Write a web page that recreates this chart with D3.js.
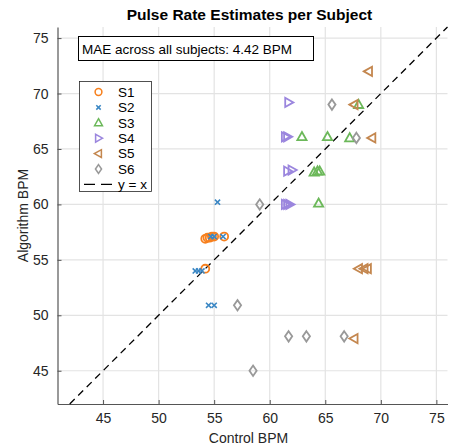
<!DOCTYPE html>
<html>
<head>
<meta charset="utf-8">
<script src="https://cdn.jsdelivr.net/npm/d3@7"></script>
<style>
  body { margin: 0; background: #fff; }
  text { font-family: "Liberation Sans", Arial, sans-serif; }
</style>
</head>
<body>
<div id="chart"></div>
<script>
// ============ Data (control BPM, algorithm BPM) ============
var subjects = ["S1", "S2", "S3", "S4", "S5", "S6"];
var s1x = [54.2, 54.4, 54.6, 54.8, 55.0, 55.9, 54.2];
var s1y = [56.9, 57.0, 57.0, 57.1, 57.1, 57.1, 54.2];
var s2x = [55.3, 54.7, 55.0, 55.8, 53.3, 53.6, 53.9, 54.5, 55.0];
var s2y = [60.2, 57.1, 57.1, 57.1, 54.0, 54.0, 54.0, 50.9, 50.9];
var s3x = [62.9, 65.2, 67.2, 68.0, 64.0, 64.3, 64.5, 64.4];
var s3y = [66.1, 66.1, 66.0, 69.0, 62.9, 63.0, 63.0, 60.1];
var s4x = [61.7, 61.4, 61.6, 61.6, 62.0, 61.4, 61.6, 61.8];
var s4y = [69.2, 66.1, 66.1, 63.0, 63.1, 60.0, 60.0, 60.0];
var s5x = [68.9, 67.6, 69.2, 68.0, 68.5, 68.8, 67.6];
var s5y = [72.0, 69.0, 66.0, 54.2, 54.2, 54.2, 47.9];
var s6x = [59.1, 57.1, 61.7, 63.3, 66.7, 58.5, 65.6, 67.8];
var s6y = [60.0, 50.9, 48.1, 48.1, 48.1, 45.0, 69.0, 66.0];
var xTicks = [45, 50, 55, 60, 65, 70, 75];
var yTicks = [45, 50, 55, 60, 65, 70, 75];
var maeText = "MAE across all subjects: 4.42 BPM";

var seriesX = [s1x, s2x, s3x, s4x, s5x, s6x];
var seriesY = [s1y, s2y, s3y, s4y, s5y, s6y];
var colors = ["#f7801e", "#3b87c4", "#6cb85a", "#9b86de", "#c4874f", "#999999"];
var shapes = ["circle", "x", "up", "right", "left", "diamond"];

//============ Set up chart =====================
var svgWidth = 452;
var svgHeight = 448;
var margin = { top: 27, right: 4.5, bottom: 44, left: 57.5 };
var width = svgWidth - margin.left - margin.right;
var height = svgHeight - margin.top - margin.bottom;

var svg = d3.select("#chart").append("svg")
  .attr("width", svgWidth)
  .attr("height", svgHeight);

var chartGroup = svg.append("g")
  .attr("transform", `translate(${margin.left}, ${margin.top})`);

var xScale = d3.scaleLinear().domain([40.9, 76]).range([0, width]);
var yScale = d3.scaleLinear().domain([42, 76]).range([height, 0]);

// grid
chartGroup.append("g").selectAll("line").data(xTicks).enter().append("line")
  .attr("x1", d => xScale(d)).attr("x2", d => xScale(d))
  .attr("y1", 0).attr("y2", height)
  .attr("stroke", "#e3e3e3").attr("stroke-width", 1.2);
chartGroup.append("g").selectAll("line").data(yTicks).enter().append("line")
  .attr("y1", d => yScale(d)).attr("y2", d => yScale(d))
  .attr("x1", 0).attr("x2", width)
  .attr("stroke", "#e3e3e3").attr("stroke-width", 1.2);

// axes
var bottomAxis = d3.axisBottom(xScale).tickValues(xTicks).tickSizeInner(-4).tickSizeOuter(0).tickPadding(9);
var leftAxis = d3.axisLeft(yScale).tickValues(yTicks).tickSizeInner(-4).tickSizeOuter(0).tickPadding(9);

var xAxis = chartGroup.append("g")
  .attr("transform", `translate(0, ${height})`)
  .call(bottomAxis);
var yAxis = chartGroup.append("g").call(leftAxis);

[xAxis, yAxis].forEach(function(ax) {
  ax.select(".domain").attr("stroke", "#555").attr("stroke-width", 1.2);
  ax.selectAll(".tick line").attr("stroke", "#555");
  ax.selectAll(".tick text").attr("fill", "#262626")
    .style("font-size", "14px").style("font-family", "Liberation Sans, Arial, sans-serif");
});

// y = x reference line
var lo = 42, hi = 76;
chartGroup.append("line")
  .attr("x1", xScale(lo)).attr("y1", yScale(lo))
  .attr("x2", xScale(hi)).attr("y2", yScale(hi))
  .attr("stroke", "#000").attr("stroke-width", 1.3)
  .attr("stroke-dasharray", "7,5");

// marker path generator
function markerPath(shape) {
  switch (shape) {
    case "circle": return d3.symbol().type(d3.symbolCircle).size(50)();
    case "x": return "M-2.6,-2.6L2.6,2.6M-2.6,2.6L2.6,-2.6";
    case "up": return "M0,-4.8L4.6,3.4L-4.6,3.4Z";
    case "right": return "M4.8,0L-3.4,4.6L-3.4,-4.6Z";
    case "left": return "M-4.8,0L3.4,4.6L3.4,-4.6Z";
    case "diamond": return "M0,-5.2L3.6,0L0,5.2L-3.6,0Z";
  }
}

seriesX.forEach(function(xs, i) {
  var pts = xs.map((x, j) => ({ x: x, y: seriesY[i][j] }));
  chartGroup.append("g").selectAll("path").data(pts).enter().append("path")
    .attr("d", markerPath(shapes[i]))
    .attr("transform", d => `translate(${xScale(d.x)}, ${yScale(d.y)})`)
    .attr("fill", "none")
    .attr("stroke", colors[i])
    .attr("stroke-width", shapes[i] === "x" ? 1.6 : 1.8);
});

// MAE annotation box
svg.append("rect")
  .attr("x", 78.5).attr("y", 36.5).attr("width", 235).attr("height", 24)
  .attr("fill", "#fff").attr("stroke", "#000").attr("stroke-width", 1);
svg.append("text")
  .attr("x", 82).attr("y", 53.5)
  .style("font-size", "13.5px").attr("fill", "#000")
  .text(maeText);

// legend
var legend = svg.append("g");
legend.append("rect")
  .attr("x", 79.5).attr("y", 81.5).attr("width", 72).attr("height", 110)
  .attr("fill", "#fff").attr("stroke", "#262626").attr("stroke-width", 0.8);
subjects.forEach(function(s, i) {
  var ly = 92 + i * 15.4;
  legend.append("path")
    .attr("d", markerPath(shapes[i]))
    .attr("transform", `translate(98.5, ${ly}) scale(0.85)`)
    .attr("fill", "none").attr("stroke", colors[i]).attr("stroke-width", 1.8);
  legend.append("text")
    .attr("x", 118).attr("y", ly + 4.8)
    .style("font-size", "13.5px").attr("fill", "#000")
    .text(s);
});
var lineY = 92 + 6 * 15.4;
legend.append("line")
  .attr("x1", 84).attr("x2", 112).attr("y1", lineY).attr("y2", lineY)
  .attr("stroke", "#000").attr("stroke-width", 1.3).attr("stroke-dasharray", "11,6");
legend.append("text")
  .attr("x", 118).attr("y", lineY + 4.8)
  .style("font-size", "13.5px").attr("fill", "#000")
  .text("y = x");

// title and axis labels
svg.append("text")
  .attr("x", margin.left + width / 2 - 3).attr("y", 20)
  .attr("text-anchor", "middle")
  .style("font-size", "15.5px").style("font-weight", "bold").attr("fill", "#000")
  .text("Pulse Rate Estimates per Subject");

svg.append("text")
  .attr("x", margin.left + width / 2 - 4).attr("y", 443)
  .attr("text-anchor", "middle")
  .style("font-size", "14px").attr("fill", "#262626")
  .text("Control BPM");

svg.append("text")
  .attr("transform", `translate(28, ${margin.top + height / 2}) rotate(-90)`)
  .attr("text-anchor", "middle")
  .style("font-size", "14px").attr("fill", "#262626")
  .text("Algorithm BPM");
</script>
</body>
</html>
